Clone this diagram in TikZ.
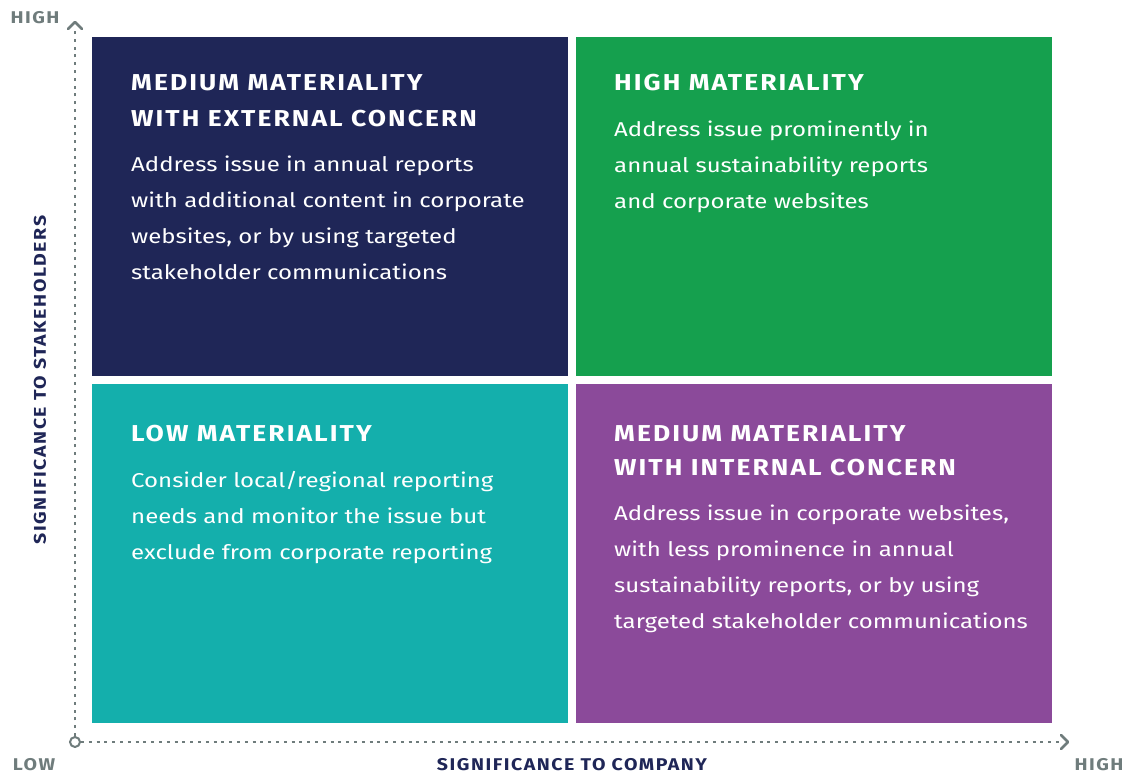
\documentclass[tikz,border=0pt]{standalone}
\usepackage{fontspec}
\setmainfont{Fira Sans}
\newfontfamily\bodyfont[FakeStretch=1.2]{Fira Sans}
\newfontfamily\titlefont[FakeStretch=1.15,LetterSpace=9]{Fira Sans}
\definecolor{navy}{HTML}{1F2657}
\definecolor{mgreen}{HTML}{15A04E}
\definecolor{mteal}{HTML}{14AFAC}
\definecolor{mpurple}{HTML}{8B4A9A}
\definecolor{axgray}{HTML}{6F7C7C}
\begin{document}
\begin{tikzpicture}[x=1pt,y=-1pt,
  quad/.style={draw=none,inner sep=0pt,outer sep=0pt,minimum width=476pt,minimum height=339pt,anchor=north west},
  ttl/.style={anchor=base west,inner sep=0pt,text=white,font=\titlefont\fontsize{23}{26}\selectfont\bfseries},
  bdy/.style={anchor=base west,inner sep=0pt,text=white,font=\bodyfont\fontsize{20}{24}\selectfont},
  axis/.style={draw=axgray,line width=2.6pt,dash pattern=on 3pt off 4.8pt},
  chev/.style={draw=axgray,line width=2.6pt,line cap=round,line join=round},
  lbl/.style={inner sep=0pt,text=axgray,font=\titlefont\fontsize{17}{20}\selectfont\bfseries},
  axl/.style={inner sep=0pt,text=navy,font=\titlefont\fontsize{17}{20}\selectfont\bfseries}
]
\useasboundingbox (0,0) rectangle (1132,776);
% quadrants
\node[quad,fill=navy] (tl) at (92,37) {};
\node[quad,fill=mgreen] (tr) at (576,37) {};
\node[quad,fill=mteal] (bl) at (92,384) {};
\node[quad,fill=mpurple] (br) at (576,384) {};
% top-left text
\node[ttl] (tl1) at (131,90) {MEDIUM MATERIALITY};
\node[ttl] (tl2) at (131,126) {WITH EXTERNAL CONCERN};
\node[bdy] (tlb1) at (131,171) {Address issue in annual reports};
\node[bdy] (tlb2) at (131,207) {with additional content in corporate};
\node[bdy] (tlb3) at (131,243) {websites, or by using targeted};
\node[bdy] (tlb4) at (131,279) {stakeholder communications};
% top-right text
\node[ttl] (tr1) at (614,90) {HIGH MATERIALITY};
\node[bdy] (trb1) at (614,136) {Address issue prominently in};
\node[bdy] (trb2) at (614,172) {annual sustainability reports};
\node[bdy] (trb3) at (614,208) {and corporate websites};
% bottom-left text
\node[ttl] (bl1) at (131,441) {LOW MATERIALITY};
\node[bdy] (blb1) at (131,487) {Consider local/regional reporting};
\node[bdy] (blb2) at (131,523) {needs and monitor the issue but};
\node[bdy] (blb3) at (131,559) {exclude from corporate reporting};
% bottom-right text
\node[ttl] (br1) at (614,441) {MEDIUM MATERIALITY};
\node[ttl] (br2) at (614,475) {WITH INTERNAL CONCERN};
\node[bdy] (brb1) at (614,520) {Address issue in corporate websites,};
\node[bdy] (brb2) at (614,556) {with less prominence in annual};
\node[bdy] (brb3) at (614,592) {sustainability reports, or by using};
\node[bdy] (brb4) at (614,628) {targeted stakeholder communications};
% axes
\coordinate (top) at (75,22);
\coordinate (right) at (1068,742);
\node[circle,draw=axgray,line width=2pt,fill=white,minimum size=10pt,inner sep=0pt] (o) at (75,742) {};
\draw[axis] (o.north) -- (75,30);
\draw[axis] (o.east) -- (1060,742);
\draw[chev] (68,29) -- (top) -- (82,29);
\draw[chev] (1061,735) -- (right) -- (1061,749);
% labels
\node[lbl] (hi1) at (35,18) {HIGH};
\node[lbl] (lo) at (34,765) {LOW};
\node[lbl] (hi2) at (1099,765) {HIGH};
\node[axl] (xl) at (572,765) {SIGNIFICANCE TO COMPANY};
\node[axl,rotate=90] (yl) at (40,380) {SIGNIFICANCE TO STAKEHOLDERS};
\end{tikzpicture}
\end{document}
